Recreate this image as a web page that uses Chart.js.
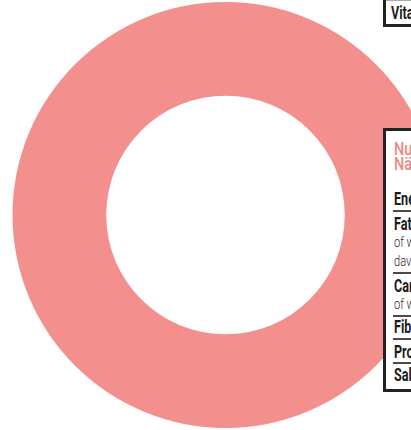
<!DOCTYPE html>
<html>
<head>
<meta charset="utf-8">
<script src="https://cdn.jsdelivr.net/npm/chart.js@4"></script>
<style>
  html, body { margin: 0; padding: 0; width: 411px; height: 430px; overflow: hidden; background: #fff; }
  #wrap { position: absolute; left: 0; top: 0; width: 451px; height: 430px; }
  .box { position: absolute; left: 383px; width: 200px; box-sizing: border-box; background: #fff;
         border: 3px solid #222; font-family: Roboto, sans-serif; color: #1c1c1c; }
  .t { position: absolute; left: 8px; white-space: nowrap; transform-origin: 0 0; }
  .b { font-weight: 700; font-size: 18px; line-height: 18px; transform: scaleX(0.7); }
  .s { font-weight: 300; font-size: 15px; line-height: 15px; color: #2a2a2a; transform: scaleX(0.74); }
  .h { font-weight: 500; font-size: 18px; line-height: 18px; color: #ef8985; transform: scaleX(0.8); }
  .sep { position: absolute; left: 7px; right: 0; height: 2px; background: #4a4a4a; }
</style>
</head>
<body>
<div id="wrap"><canvas id="donut"></canvas></div>

<div class="box" style="top:-10px; height:37px; border-top:none;">
  <div style="position:absolute; left:0; right:0; top:10px; height:1px; background:#aaa;"></div>
  <div class="t b" style="top:14px; left:5px;">Vitamin C</div>
</div>

<div class="box" style="top:128px; height:264px;">
  <div class="t h" style="top:9px;">Nutrition</div>
  <div class="t h" style="top:24px;">Nährwerte</div>
  <div class="t b" style="top:59px;">Energy</div>
  <div class="sep" style="top:79px;"></div>
  <div class="t b" style="top:84px;">Fat</div>
  <div class="t s" style="top:104px;">of which saturates</div>
  <div class="t s" style="top:123px;">davon gesättigte</div>
  <div class="sep" style="top:141px;"></div>
  <div class="t b" style="top:146px;">Carbohydrate</div>
  <div class="t s" style="top:166px;">of which sugars</div>
  <div class="sep" style="top:184px;"></div>
  <div class="t b" style="top:187px;">Fibre</div>
  <div class="sep" style="top:207px;"></div>
  <div class="t b" style="top:212px;">Protein</div>
  <div class="sep" style="top:231px;"></div>
  <div class="t b" style="top:235px;">Salt</div>
</div>

<script>
const labels = ['Nutrition'];
const values = [100];
const colors = ['#f38f8d'];

const ctx = document.getElementById('donut').getContext('2d');
new Chart(ctx, {
  type: 'doughnut',
  data: {
    labels: labels,
    datasets: [{ data: values, backgroundColor: colors, borderWidth: 0 }]
  },
  options: {
    responsive: true,
    maintainAspectRatio: false,
    animation: false,
    cutout: '56%',
    layout: { padding: 2 },
    plugins: { legend: { display: false }, tooltip: { enabled: false } }
  }
});
</script>
</body>
</html>
